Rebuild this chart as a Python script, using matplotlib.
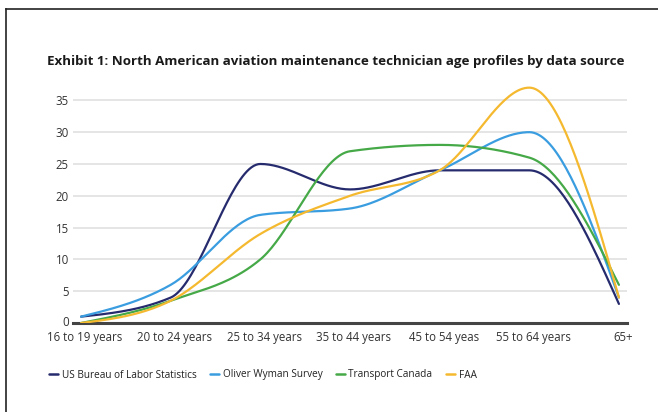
import numpy as np
import matplotlib
matplotlib.use("Agg")
import matplotlib.pyplot as plt
from matplotlib.lines import Line2D
from matplotlib.transforms import ScaledTranslation

plt.rcParams['font.family'] = ['Open Sans', 'DejaVu Sans']

age_groups = ["16 to 19 years", "20 to 24 years", "25 to 34 years", "35 to 44 years",
              "45 to 54 yeas", "55 to 64 years", "65+"]
bls = [1, 4, 25, 21, 24, 24, 3]
oliver_wyman = [1, 6, 17, 18, 24, 30, 4]
transport_canada = [0, 3.5, 10, 27, 28, 26, 6]
faa = [0, 3.5, 14, 20, 24, 37, 4]

series = [
    ("US Bureau of Labor Statistics", bls, "#262b6e"),
    ("Oliver Wyman Survey", oliver_wyman, "#3a9de0"),
    ("Transport Canada", transport_canada, "#46a948"),
    ("FAA", faa, "#f5b930"),
]


def monotone_curve(x, y, n=40):
    """Monotone cubic (d3 curveMonotoneX style) sampling of a polyline."""
    x = np.asarray(x, float)
    y = np.asarray(y, float)
    h = np.diff(x)
    s = np.diff(y) / h
    m = np.zeros_like(y)
    for i in range(1, len(x) - 1):
        p = (s[i - 1] * h[i] + s[i] * h[i - 1]) / (h[i - 1] + h[i])
        m[i] = (np.sign(s[i - 1]) + np.sign(s[i])) * min(abs(s[i - 1]), abs(s[i]), 0.5 * abs(p))
    m[0] = (3 * s[0] - m[1]) / 2
    m[-1] = (3 * s[-1] - m[-2]) / 2
    xs, ys = [], []
    for i in range(len(x) - 1):
        t = np.linspace(0, 1, n, endpoint=(i == len(x) - 2))
        h00 = 2 * t**3 - 3 * t**2 + 1
        h10 = t**3 - 2 * t**2 + t
        h01 = -2 * t**3 + 3 * t**2
        h11 = t**3 - t**2
        xs.append(x[i] + t * h[i])
        ys.append(h00 * y[i] + h10 * h[i] * m[i] + h01 * y[i + 1] + h11 * h[i] * m[i + 1])
    return np.concatenate(xs), np.concatenate(ys)


fig = plt.figure(figsize=(6.58, 4.12), dpi=100)
ax = fig.add_axes([73 / 658, (412 - 323) / 412, (627 - 73) / 658, 0.8027 - (412 - 323) / 412])

xpos = np.arange(len(age_groups))
for name, vals, color in series:
    cx, cy = monotone_curve(xpos, vals)
    ax.plot(cx, cy, color=color, lw=1.6, label=name, solid_capstyle='round', zorder=3)

ax.set_xlim(-0.09, 6.09)
ax.set_ylim(0, 38)
ax.set_yticks(range(0, 40, 5))
ax.set_xticks(xpos)
ax.set_xticklabels(age_groups)
ax.grid(axis='y', color='#e3e3e3', lw=1.3)
ax.set_axisbelow(True)
for side in ("top", "right", "left"):
    ax.spines[side].set_visible(False)
ax.spines["bottom"].set_color("#444444")
ax.spines["bottom"].set_linewidth(2.2)
ax.tick_params(axis='both', length=0, labelsize=8.3, labelcolor='#333333')
ax.tick_params(axis='y', pad=3)
ax.tick_params(axis='x', pad=5.5)
offset = ScaledTranslation(4 / 100, 0, fig.dpi_scale_trans)
for lbl in ax.get_xticklabels():
    lbl.set_transform(lbl.get_transform() + offset)
# lift the zero label a touch so it clears the category labels below
ylabels = ax.get_yticklabels()
ylabels[0].set_transform(ylabels[0].get_transform() + ScaledTranslation(0, 2 / 100, fig.dpi_scale_trans))

fig.text(47 / 658, 1 - 62 / 412, "Exhibit 1: North American aviation maintenance technician age profiles by data source",
         fontsize=9.6, fontweight='bold', color='#1a1a1a', va='center', ha='left')

leg = fig.legend(loc='center left', bbox_to_anchor=(40 / 658, 1 - 375 / 412), ncol=4, frameon=False,
                 fontsize=7.2, handlelength=0.9, handletextpad=0.4, columnspacing=1.3, labelcolor='#222222')
for line in leg.get_lines():
    line.set_linewidth(1.8)

# outer frame
fig.add_artist(Line2D([6 / 658, 6 / 658], [0, 1 - 9 / 412], transform=fig.transFigure, color='#222222', lw=1.2))
fig.add_artist(Line2D([6 / 658, 1], [1 - 9 / 412, 1 - 9 / 412], transform=fig.transFigure, color='#222222', lw=1.2))

fig.savefig("out.png", dpi=100, facecolor='white')
